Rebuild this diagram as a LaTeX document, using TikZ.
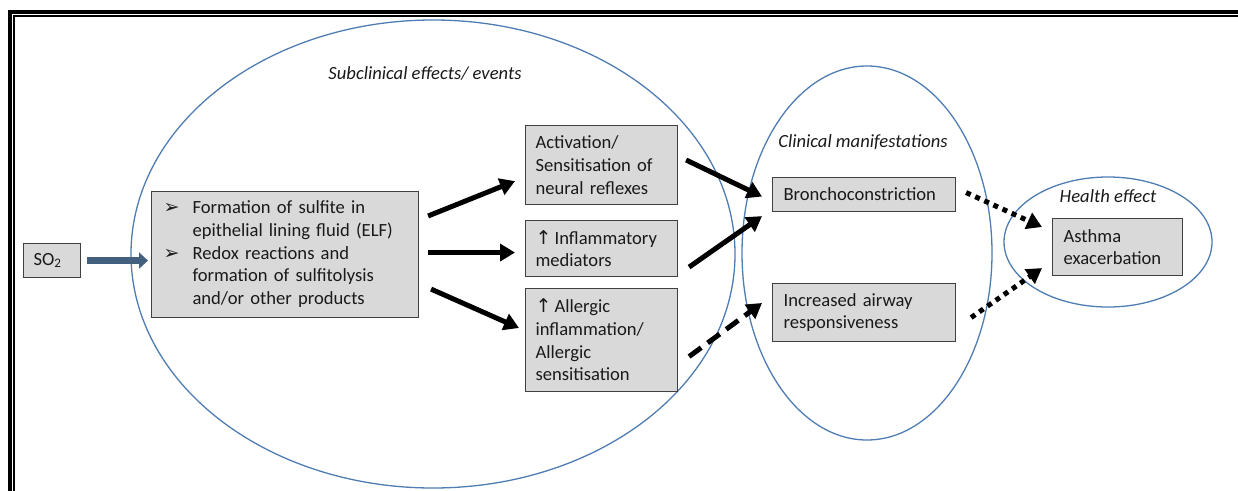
\documentclass[tikz,border=0pt]{standalone}
\usepackage{fontspec}
\setmainfont{Carlito}
\newfontfamily\symf{DejaVu Sans}
\usetikzlibrary{arrows.meta}
\definecolor{ellc}{HTML}{4F7DB3}
\definecolor{boxfill}{HTML}{D9D9D9}
\definecolor{boxdraw}{HTML}{404040}
\definecolor{so2arrow}{HTML}{44607F}
\definecolor{txt}{HTML}{1A1A1A}
\newcommand{\uparr}{{\symf\fontsize{19}{22.7}\selectfont ↑}}
\newcommand{\bul}{{\symf\fontsize{19}{22.7}\selectfont ➢}}
\begin{document}
\begin{tikzpicture}[x=1pt,y=-1pt,
  every node/.style={text=txt},
  box/.style={draw=boxdraw, line width=1.1pt, fill=boxfill, font=\fontsize{18.6}{22.7}\selectfont, align=left, inner ysep=0pt, anchor=north west},
  ell/.style={draw=ellc, line width=1.3pt},
  lab/.style={font=\fontsize{18.6}{22.7}\selectfont\itshape},
  conn/.style={line width=5pt, -{Triangle[length=15pt,width=17pt]}},
  dashconn/.style={conn, dash pattern=on 15pt off 8pt},
  dotconn/.style={conn, dash pattern=on 5pt off 5pt},
]
\useasboundingbox (0,0) rectangle (1238,490);
% frame
\draw[line width=4pt, line join=miter] (10,492) -- (10,12) -- (1240,12);
\draw[line width=1.6pt, line join=miter] (13.8,492) -- (13.8,15.8) -- (1240,15.8);
% ellipses
\draw[ell] (433,254) ellipse [x radius=302pt, y radius=234pt];
\draw[ell] (867,253) ellipse [x radius=125pt, y radius=187pt];
\draw[ell] (1108,242) ellipse [x radius=104pt, y radius=65pt];
% labels
\node[lab] (sublab) at (425,73) {Subclinical effects/ events};
\node[lab] (clinlab) at (863,142) {Clinical manifestations};
\node[lab] (healthlab) at (1108,196) {Health effect};
% boxes
\node[box, text width=37pt, inner xsep=10pt, minimum height=34pt] (so2) at (23,243) {SO\textsubscript{2}};
\node[box, text width=243pt, inner xsep=12pt, minimum height=126pt] (main) at (151,191) {%
\begin{tabular}{@{}p{29pt}@{}l@{}}
\bul & Formation of sulfite in\\
 & epithelial lining fluid (ELF)\\
\bul & Redox reactions and\\
 & formation of sulfitolysis\\
 & and/or other products
\end{tabular}};
\node[box, text width=132pt, inner xsep=10pt, minimum height=79pt] (box1) at (525,125) {Activation/\\Sensitisation of\\neural reflexes};
\node[box, text width=132pt, inner xsep=10pt, minimum height=56pt] (box2) at (525,220) {\uparr\,Inflammatory\\mediators};
\node[box, text width=132pt, inner xsep=10pt, minimum height=103pt] (box3) at (525,288) {\uparr\,Allergic\\inflammation/\\Allergic\\sensitisation};
\node[box, text width=161pt, inner xsep=11pt, minimum height=34pt] (bron) at (772,177) {Bronchoconstriction};
\node[box, text width=161pt, inner xsep=11pt, minimum height=58pt] (incr) at (772,283) {Increased airway\\responsiveness};
\node[box, text width=108pt, inner xsep=11pt, minimum height=57pt] (asth) at (1052,218) {Asthma\\exacerbation};
% connectors
\draw[line width=7pt, draw=so2arrow, -{Triangle[length=9pt,width=16pt]}] ([shift={(6,0)}]so2.east) -- ([shift={(-3,6)}]main.west);
\draw[conn] ([shift={(9,25)}]main.north east) -- ([shift={(-10,-24)}]box1.south west);
\draw[conn] ([shift={(9,-2)}]main.east) -- ([shift={(-10,-2)}]main.east -| box2.west);
\draw[conn] ([shift={(12,-29)}]main.south east) -- ([shift={(-6,40)}]box3.north west);
\draw[conn] ([shift={(8,35)}]box1.north east) -- ([shift={(-10,2)}]bron.west);
\draw[conn] ([shift={(11,-10)}]box2.south east) -- ([shift={(-10,4)}]bron.south west);
\draw[dashconn] ([shift={(11,16.5)}]box3.east) -- ([shift={(-10,20)}]incr.north west);
\draw[dotconn] ([shift={(10,-2)}]bron.east) -- ([shift={(-10,9)}]asth.north west);
\draw[dotconn] ([shift={(15,5)}]incr.east) -- ([shift={(-10,-8)}]asth.south west);
\end{tikzpicture}
\end{document}
